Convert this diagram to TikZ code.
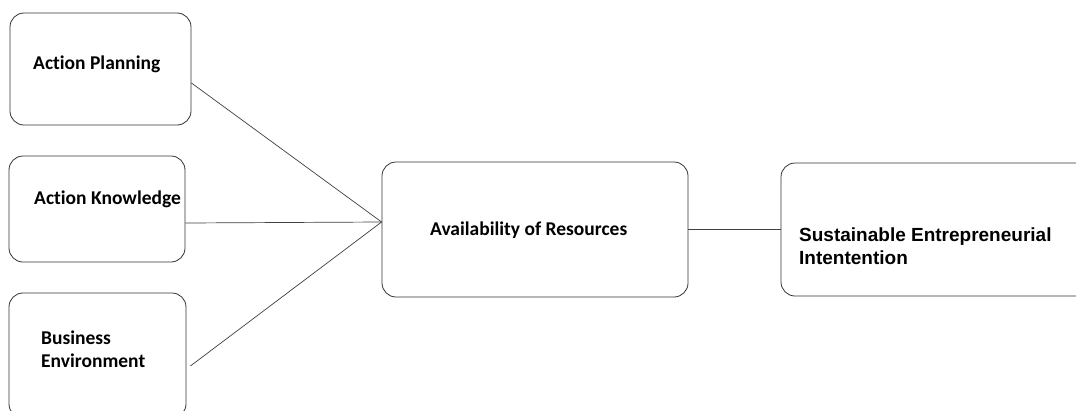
\documentclass[tikz,border=0pt]{standalone}
\usepackage{fontspec}
\setmainfont{Carlito}[Ligatures=NoCommon]
\newfontfamily\arialfont{Liberation Sans}
\usetikzlibrary{calc}
\begin{document}
\begin{tikzpicture}[x=1pt,y=-1pt,
  box/.style={draw=black!80,line width=0.8pt,rounded corners=14pt,minimum width=#1,inner sep=0pt},
  lbl/.style={anchor=west,inner sep=0pt,font=\fontsize{19.5}{23}\selectfont\bfseries,align=left},
  lblsans/.style={anchor=west,inner sep=0pt,font=\arialfont\fontsize{19}{23}\selectfont\bfseries,align=left},
  link/.style={draw=black!75,line width=0.7pt}]
\clip (0,0) rectangle (1076,410);
\fill[white] (0,0) rectangle (1076,410);
% boxes
\node[box=181pt,minimum height=112pt] (ap) at (100.5,69) {};
\node[box=176pt,minimum height=106pt] (ak) at (97,209) {};
\node[box=177pt,minimum height=125pt] (be) at (97.5,355.5) {};
\node[box=306pt,minimum height=135pt] (ar) at (535,229.5) {};
\node[box=320pt,minimum height=133pt] (se) at (941,229.5) {};
% labels
\node[lbl] (tap) at (33,64) {Action Planning};
\node[lbl] (tak) at (34,199) {Action Knowledge};
\node[lbl] (tbe) at (41,349.5) {Business\\Environment};
\node[lbl] (tar) at (430,230) {Availability of Resources};
\node[lblsans] (tse) at (799,246.5) {Sustainable Entrepreneurial\\Intentention};
% connectors
\coordinate (hub) at ($(ar.west)+(0,-7.5)$);
\draw[link] ($(ap.east)+(0,14)$) -- (hub);
\draw[link] ($(ak.east)+(0,14)$) -- (hub);
\draw[link] ($(be.east)+(4,10.5)$) -- (hub);
\draw[link] (ar.east) -- (se.west);
\end{tikzpicture}
\end{document}
